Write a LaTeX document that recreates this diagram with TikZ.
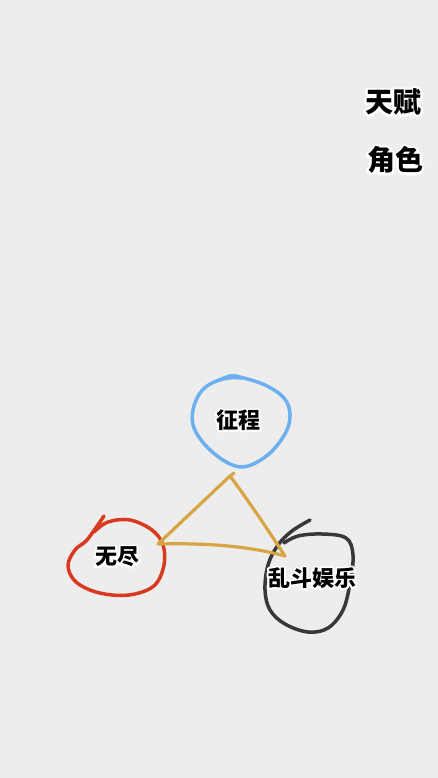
\documentclass[tikz,border=0pt]{standalone}
\usepackage{fontspec}
\newfontfamily\cjk{Noto Sans CJK SC}
\definecolor{bg}{HTML}{EDEDED}
\definecolor{ringblue}{HTML}{6DB0EE}
\definecolor{ringred}{HTML}{D93A1F}
\definecolor{ringdark}{HTML}{383838}
\definecolor{triorange}{HTML}{D8A545}
% black text with a white rim
\newcommand\halotext[2]{%
  \makebox[0pt][l]{\special{pdf:literal direct 1 Tr #1 w 1 J 1 j 1 1 1 RG}#2\special{pdf:literal direct 0 Tr 0 0 0 RG}}#2}
\begin{document}
\begin{tikzpicture}[x=1pt,y=-1pt,
    ring/.style={line width=3.5pt,line cap=round,line join=round},
    tag/.style={font=\cjk\bfseries\fontsize{22}{26}\selectfont,inner sep=0pt},
    side/.style={font=\cjk\bfseries\fontsize{28}{32}\selectfont,inner sep=0pt}]
    \fill[bg] (0,0) rectangle (438,778);

    \node[side] (tianfu) at (393,102) {\halotext{5}{天赋}};
    \node[side] (juese) at (395,160) {\halotext{5}{角色}};

    \coordinate (zc) at (238,420);
    \coordinate (wj) at (117,557);
    \coordinate (ld) at (312,578);

    % rings
    \draw[ring,ringblue,shift={(zc)}] plot[smooth,tension=0.6] coordinates {(-21,-39) (-8,-44) (2,-43) (27,-35) (46,-22) (52,-6) (48,12) (32,33) (10,46) (-8,44) (-30,28) (-44,8) (-45,-10) (-38,-27) (-26,-37) (-10,-42) (4,-42)};
    \draw[ring,ringred,shift={(wj)}] plot[smooth,tension=0.6] coordinates {(-13,-41) (-22,-28) (-31,-16) (-42,-7) (-49,8) (-43,23) (-27,33) (-5,38) (18,37) (38,28) (47,8) (46,-12) (35,-27) (13,-37) (-9,-35) (-23,-25)};
    \draw[ring,ringdark,shift={(ld)}] plot[smooth,tension=0.6] coordinates {(-2,-58) (-20,-47) (-34,-33) (-44,-13) (-47,12) (-42,32) (-27,46) (-4,54) (16,50) (31,32) (38,5) (41,-23) (34,-40) (10,-44) (-14,-42) (-28,-35)};

    % triangle
    \coordinate (tt) at (230,476);
    \coordinate (tl) at (158,544);
    \coordinate (tr) at (285,556);
    \draw[ring,triorange,line width=3.2pt] (tt) -- (tl) .. controls (200,543) and (245,545) .. (tr) .. controls (268,530) and (248,500) .. (tt) -- ++(4,-3);

    \node[tag] (zhengcheng) at (zc) {\halotext{4}{征程}};
    \node[tag] (wujin) at (wj) {\halotext{4}{无尽}};
    \node[tag] (luandou) at (ld) {\halotext{4}{乱斗娱乐}};
\end{tikzpicture}
\end{document}
